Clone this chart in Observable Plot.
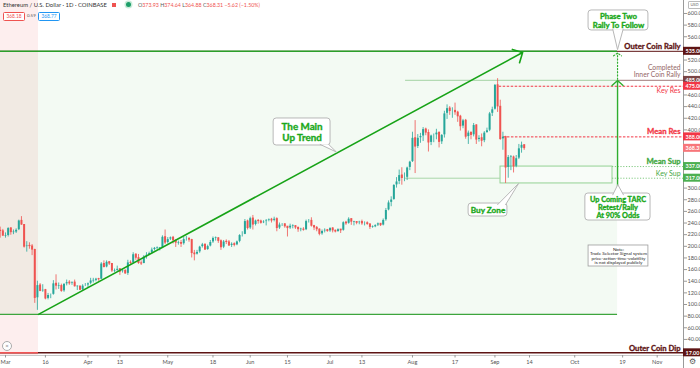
<!DOCTYPE html>
<html>
<head>
<meta charset="utf-8">
<script src="https://cdn.jsdelivr.net/npm/d3@7"></script>
<script src="https://cdn.jsdelivr.net/npm/@observablehq/plot@0.6"></script>
<style>
  html, body { margin:0; padding:0; background:#fff; }
  #wrap { position:relative; width:700px; height:368px; overflow:hidden; font-family: Lato, "DejaVu Sans", sans-serif; }
  #wrap svg { display:block; }
  .abs { position:absolute; white-space:nowrap; }
</style>
</head>
<body>
<div id="wrap"></div>
<script>
// ---------------- DATA ----------------
const firstDay = "2020-02-28"; // first candle, then one candle per day
// Feb 28 .. Sep 12, 2020 (daily)
const opens = [
  227,226,
  218,218,231,224,224,228,244,237,199,201,200,194,111,133,123,125,110,116,117,136,132,132,123,135,138,136,138,131,131,125,132,
  133,136,141,141,144,143,170,164,173,170,158,158,161,156,158,153,172,171,186,180,171,170,182,185,188,194,197,197,197,216,
  206,212,215,210,206,206,204,212,213,211,188,186,190,199,203,194,200,207,214,214,209,198,208,207,201,204,202,208,219,220,243,
  231,248,237,244,243,240,242,244,246,244,247,231,237,238,234,231,235,235,232,229,229,228,243,244,235,232,229,221,226,228,
  226,231,227,225,229,227,241,239,247,242,242,240,242,239,240,238,233,233,236,239,236,245,262,275,280,305,311,322,317,318,335,
  345,386,371,386,389,401,395,378,390,391,395,379,391,428,437,432,433,430,423,406,416,388,395,391,408,383,386,381,395,399,428,
  435,477,440,384,388,335,353,353,337,351,368,373.93
];
const highs = [
  233,229,
  223,232,232,228,230,245,251,237,208,206,203,195,140,136,134,126,119,118,141,151,137,135,136,142,141,139,142,132,132,134,136,
  137,145,145,145,145,172,175,175,174,170,161,166,161,160,160,176,175,189,187,186,175,184,189,190,197,198,199,198,218,228,
  215,216,217,211,209,210,215,217,215,212,193,193,200,205,204,202,210,216,216,215,211,210,211,210,206,206,209,220,225,246,245,
  250,253,245,246,245,244,246,247,248,250,249,240,239,239,234,238,237,235,233,231,232,245,246,249,236,234,230,228,230,229,
  232,232,228,230,229,242,243,249,247,243,242,243,245,242,242,238,235,237,240,239,247,265,278,285,306,318,331,335,326,336,346,
  396,416,392,394,404,403,400,391,393,401,397,392,432,443,440,438,446,432,425,418,418,398,397,411,409,390,393,397,403,430,439,
  478,488,451,396,389,356,356,355,356,375,379,374.64
];
const lows = [
  214,217,
  214,216,219,220,222,227,236,197,190,195,184,102,90,122,121,108,108,110,116,125,126,121,121,132,133,133,130,124,124,124,131,
  128,134,137,139,140,143,163,163,167,155,155,157,150,154,152,150,168,170,176,169,167,170,178,184,187,192,194,192,196,203,
  204,210,204,198,202,198,202,209,207,180,175,185,188,197,193,193,199,205,209,205,193,196,203,200,198,199,201,206,216,220,228,
  229,228,235,238,238,239,235,242,240,242,225,229,234,231,216,229,230,229,224,225,226,227,240,233,227,225,218,219,223,224,
  224,223,223,224,222,226,236,238,236,235,237,237,236,235,236,229,231,232,234,234,235,243,261,268,279,300,306,305,311,313,330,
  344,325,368,377,380,390,362,373,378,383,369,375,386,418,425,420,425,413,398,402,384,375,383,388,375,379,371,378,394,397,423,
  434,430,382,365,308,317,330,326,335,349,360,364.88
];
const closes = [
  226,218,
  218,231,224,224,228,244,237,199,201,200,194,111,133,123,125,110,116,117,136,132,132,123,135,138,136,138,131,131,125,132,133,
  136,141,141,144,143,170,164,173,170,158,158,161,156,158,153,172,171,186,180,171,170,182,185,188,194,197,197,197,216,206,
  212,215,210,206,206,204,212,213,211,188,186,190,199,203,194,200,207,214,214,209,198,208,207,201,204,202,208,219,220,243,231,
  248,237,244,243,240,242,244,246,244,247,231,237,238,234,231,235,235,232,229,229,228,243,244,235,232,229,221,226,228,226,
  231,227,225,229,227,241,239,247,242,242,240,242,239,240,238,233,233,236,239,236,245,262,275,280,305,311,322,317,318,335,345,
  386,371,386,389,401,395,378,390,391,395,379,391,428,437,432,433,430,423,406,416,388,395,391,408,383,386,381,395,399,428,435,
  477,440,384,388,335,353,353,337,351,368,374,368.31
];

const xTickDates = ["2020-03-01","2020-03-16","2020-04-01","2020-04-13","2020-05-01","2020-05-18","2020-06-01","2020-06-15",
  "2020-07-01","2020-07-13","2020-08-01","2020-08-17","2020-09-01","2020-09-14","2020-10-01","2020-10-19","2020-11-01"];
const xTickLabels = ["Mar","16","Apr","13","May","18","Jun","15","Jul","13","Aug","17","Sep","14","Oct","19","Nov"];
const priceTicks = [20,40,60,80,100,120,140,160,180,200,220,240,260,280,300,320,340,360,380,400,420,440,460,480,500,520,540,560,580,600];

const levelNames  = ["Outer Coin Rally","Completed","Inner Coin Rally","Key Res","Mean Res","Mean Sup","Key Sup","Outer Coin Dip"];
const levelValues = [535, 485, 485, 475, 388, 337, 317, 17];
const trendStart = 83;           // main up-trend base (Mar 13 low area)
const buyZone = [308, 337];
const tagValues = [535, 485, 475, 388, 368.31, 337, 317, 17];
const headerTitle = "Ethereum / U.S. Dollar · 1D · COINBASE";
const lastChange = ["−5.62", "(−1.50%)"];
const quoteLabels = ["368.18", "0.59", "368.77"];
const calloutTexts = ["The Main\nUp Trend", "Phase Two\nRally To Follow", "Up Coming TARC\nRetest/Rally\nAt 90% Odds", "Buy Zone",
  "Note:\nTrade Selector Signal system\nprice-action-time-volatility\nis not displayed publicly"];

// ---------------- BUILD ----------------
const t0 = Date.parse(firstDay);
const candles = closes.map((c, i) => ({date: new Date(t0 + i * 864e5), open: opens[i], high: highs[i], low: lows[i], close: c}));
const day = n => new Date(Date.UTC(2020, 2, 1) + n * 864e5); // days after Mar 1
const xStart = day(-1.88), xEnd = day(254.89);
const yBottom = 12.4, yTop = 622.3;
const UP = "#26a69a", DOWN = "#ef5350";
const MAROON = "#5e1414", RED = "#f23645";
const tickLab = new Map(xTickDates.map((d, i) => [Date.parse(d), xTickLabels[i]]));
// price labels hidden behind the coloured tags, as on the original axis
const shownTicks = priceTicks.filter(t => tagValues.every(v => Math.abs(v - t) > 10.3));

const lvl = name => levelValues[levelNames.indexOf(name)];
const hline = (v, a, b, opts) => Plot.ruleY([v], {x1: () => a, x2: () => b, ...opts});

const callouts = [
  {text: calloutTexts[0], x1: day(100.8), x2: day(122.2), y1: 373.2, y2: 419.6, fs: 9.8, lh: 1.08,
   ptr: [[118.3, 375], [124.4, 362], [121.5, 375]]},
  {text: calloutTexts[1], x1: day(219.2), x2: day(241.7), y1: 570.8, y2: 605.2, fs: 7.8, lh: 1.1,
   ptr: [[228.3, 573], [230.1, 538], [232.2, 573]]},
  {text: calloutTexts[2], x1: day(218), x2: day(242.5), y1: 244.3, y2: 290.7, fs: 7.3, lh: 1.1,
   ptr: [[228.3, 288.5], [230.2, 306], [232.3, 288.5]]},
  {text: calloutTexts[3], x1: day(174.1), x2: day(188.7), y1: 251.2, y2: 273.5, fs: 8.2, lh: 1.0,
   ptr: [[185, 271.5], [192.9, 308], [188, 271.5]]}
];
const ptrPts = callouts.flatMap((c, k) => c.ptr.map(p => ({k, x: day(p[0]), y: p[1]})));
const note = [{text: calloutTexts[4], x1: day(219.2), x2: day(241.7), y1: 165.3, y2: 201.4}];

const tags = tagValues.map((v, i) => ({v, label: v.toFixed(2),
  color: ["#5e1414", "#7a4545", "#f23645", "#f23645", "#f7767a", "#4caf50", "#4caf50", "#5e1414"][i]}));

const rightLabels = [
  {t: "Outer Coin Rally", v: lvl("Outer Coin Rally"), dy: -4.5, fill: MAROON, w: "bold", fs: 7.7},
  {t: "Completed", v: lvl("Completed"), dy: -12.2, fill: "#946666", w: "normal", fs: 6.8},
  {t: "Inner Coin Rally", v: lvl("Inner Coin Rally"), dy: -5.2, fill: "#946666", w: "normal", fs: 6.8},
  {t: "Key Res", v: lvl("Key Res"), dy: 4.8, fill: RED, w: "normal", fs: 7},
  {t: "Mean Res", v: lvl("Mean Res"), dy: -5.4, fill: RED, w: "bold", fs: 7.7},
  {t: "Mean Sup", v: lvl("Mean Sup"), dy: -5, fill: "#3fa73f", w: "bold", fs: 7.7},
  {t: "Key Sup", v: lvl("Key Sup"), dy: -4.8, fill: "#3fa73f", w: "normal", fs: 7},
  {t: "Outer Coin Dip", v: lvl("Outer Coin Dip"), dy: -4.6, fill: MAROON, w: "bold", fs: 7.7}
];

const marks = [
  // background zones
  Plot.rect([0], {x1: () => xStart, x2: () => day(12.4), y1: () => yBottom, y2: () => yTop, fill: "#fdeeee"}),
  Plot.rect([0], {x1: () => xStart, x2: () => day(230.1), y1: () => trendStart, y2: () => lvl("Outer Coin Rally"), fill: "#4caf50", fillOpacity: 0.065}),
  Plot.rect([0], {x1: () => day(186.1), x2: () => day(228.2), y1: () => buyZone[0], y2: () => buyZone[1], fill: "white", fillOpacity: 0.45, stroke: "#93d193", strokeWidth: 1}),
  // level lines
  hline(lvl("Outer Coin Rally"), xStart, xEnd, {stroke: MAROON, strokeWidth: 1}),
  hline(lvl("Outer Coin Rally"), xStart, day(230.1), {stroke: "#2a9f2a", strokeWidth: 1.5}),
  hline(trendStart, xStart, day(230.1), {stroke: "#3da53d", strokeWidth: 1.2}),
  hline(lvl("Completed"), day(150.4), day(230.1), {stroke: "#b3dab3", strokeWidth: 1.2}),
  hline(lvl("Completed"), day(230.1), xEnd, {stroke: "#b39494", strokeWidth: 1.2}),
  hline(lvl("Key Res"), day(185.6), xEnd, {stroke: RED, strokeWidth: 1, strokeDasharray: "2.5,1.5"}),
  hline(lvl("Mean Res"), day(187.2), xEnd, {stroke: RED, strokeWidth: 1, strokeDasharray: "2.5,1.5"}),
  hline(lvl("Mean Sup"), day(228.2), xEnd, {stroke: "#80c980", strokeWidth: 1, strokeDasharray: "1.2,1.6"}),
  hline(lvl("Key Sup"), day(150.4), day(186.1), {stroke: "#a9d6a9", strokeWidth: 1}),
  hline(lvl("Key Sup"), day(228.2), xEnd, {stroke: "#80c980", strokeWidth: 1, strokeDasharray: "1.2,1.6"}),
  hline(lvl("Outer Coin Dip"), xStart, xEnd, {stroke: MAROON, strokeWidth: 1.5}),
  hline(lvl("Outer Coin Dip"), xStart, day(12.4), {stroke: "#f25555", strokeWidth: 1.5}),
  // axis borders
  Plot.ruleY([yBottom], {stroke: "#c8c8c8", strokeWidth: 1}),
  Plot.ruleX([xEnd], {stroke: "#9a9a9a", strokeWidth: 1, insetBottom: -13}),
  // candles
  Plot.ruleX(candles, {x: "date", y1: "low", y2: "high", stroke: d => d.close >= d.open ? UP : DOWN, strokeWidth: 0.8}),
  Plot.ruleX(candles, {x: "date", y1: "open", y2: "close", stroke: d => d.close >= d.open ? UP : DOWN, strokeWidth: 2, insetTop: -0.3, insetBottom: -0.3}),
  // trend arrow
  Plot.arrow([{x1: day(12.4), y1: trendStart, x2: day(194.4), y2: 533}], {x1: "x1", y1: "y1", x2: "x2", y2: "y2", stroke: "#17a317", strokeWidth: 1.6, headLength: 10, headAngle: 90}),
  // vertical rally arrows
  Plot.arrow([{x: day(230.1), y1: 300, y2: 485}], {x1: "x", x2: "x", y1: "y1", y2: "y2", stroke: "#2fae2f", strokeWidth: 1.4, headLength: 8, headAngle: 95}),
  Plot.arrow([{x: day(230.1), y1: 487, y2: 532}], {x1: "x", x2: "x", y1: "y1", y2: "y2", stroke: "#2fae2f", strokeWidth: 1.2, strokeDasharray: "1.2,2", headLength: 6, headAngle: 110}),
  // callouts
  Plot.rect(callouts, {x1: "x1", x2: "x2", y1: "y1", y2: "y2", fill: "white", stroke: "#b8b8b8", strokeWidth: 1, rx: 3}),
  Plot.line(ptrPts, {x: "x", y: "y", z: "k", fill: "white", stroke: "#b8b8b8", strokeWidth: 1, curve: "linear"}),
  ...callouts.map(c => Plot.text([c], {x: d => new Date((+d.x1 + +d.x2) / 2), y: d => (d.y1 + d.y2) / 2, text: "text",
     fill: "#1aa81a", stroke: "#1aa81a", strokeWidth: 0.35, fontWeight: "bold", fontSize: c.fs, lineHeight: c.lh})),
  Plot.rect(note, {x1: "x1", x2: "x2", y1: "y1", y2: "y2", fill: "white", stroke: "#9c9c9c", strokeWidth: 0.8}),
  Plot.text(note, {x: d => new Date((+d.x1 + +d.x2) / 2), y: d => (d.y1 + d.y2) / 2, text: "text", fill: "#222", fontSize: 4.6, lineHeight: 1.0}),
  // right side labels
  ...rightLabels.map(l => Plot.text([l], {x: () => day(253.8), y: "v", text: "t", dy: l.dy, textAnchor: "end",
     fill: l.fill, stroke: l.w === "bold" ? l.fill : "none", strokeWidth: 0.3, fontWeight: l.w, fontSize: l.fs})),
  // axes
  Plot.axisX(xTickDates.map(d => new Date(d)), {anchor: "bottom", tickSize: 2.5, tickPadding: 2, fontSize: 5.6,
     tickFormat: d => tickLab.get(+d), fill: "#555", stroke: "#999"}),
  Plot.axisY(shownTicks, {anchor: "right", tickSize: 3, tickPadding: 1, fontSize: 5.6,
     tickFormat: d => d.toFixed(2), fill: "#555", stroke: "#999"}),
  // price tags
  Plot.rect(tags, {x1: () => xEnd, x2: () => xEnd, y1: "v", y2: "v", insetTop: -4, insetBottom: -4, insetRight: -17, fill: "color"}),
  Plot.text(tags, {x: () => xEnd, y: "v", text: "label", dx: 2, textAnchor: "start", fill: "white", fontSize: 5.4, fontWeight: "bold"})
];

const plot = Plot.plot({
  width: 700, height: 368,
  marginTop: 0, marginRight: 17, marginBottom: 13, marginLeft: 0,
  style: {fontFamily: "Lato, 'DejaVu Sans', sans-serif", background: "white", overflow: "visible"},
  x: {type: "utc", domain: [xStart, xEnd]},
  y: {domain: [yBottom, yTop]},
  color: {type: "identity"},
  marks
});

const wrap = document.getElementById("wrap");
wrap.appendChild(plot);

// header & UI overlays (real text)
const last = candles[candles.length - 1];
const red = "#ef5350";
const ov = (html, css) => { const d = document.createElement("div"); d.className = "abs"; d.style.cssText = css; d.innerHTML = html; wrap.appendChild(d); };
ov(headerTitle, "left:3px;top:1px;font-size:5.9px;color:#333;line-height:8px;");
ov("", `left:112px;top:2.5px;width:4px;height:4px;background:${red};`);
ov("", "left:126px;top:2px;width:5px;height:5px;border-radius:50%;background:#1e9e6a;box-shadow:0 0 0 1.5px #c9ecd9;");
ov(`<span style="color:#555">O</span>${last.open.toFixed(2)} <span style="color:#555">H</span>${last.high.toFixed(2)} <span style="color:#555">L</span>${last.low.toFixed(2)} <span style="color:#555">C</span>${last.close.toFixed(2)} ${lastChange[0]} ${lastChange[1]}`,
   `left:138px;top:1px;font-size:5.3px;color:${red};line-height:8px;`);
ov(quoteLabels[0], `left:3px;top:11.5px;width:20px;height:7px;border:0.8px solid ${red};border-radius:1.5px;color:${red};font-size:4.8px;line-height:7px;text-align:center;background:#fff;`);
ov(quoteLabels[1], "left:27px;top:12px;font-size:4.4px;color:#555;line-height:7px;");
ov(quoteLabels[2], "left:38px;top:11.5px;width:20px;height:7px;border:0.8px solid #2196f3;border-radius:1.5px;color:#2196f3;font-size:4.8px;line-height:7px;text-align:center;background:#fff;");
ov("USD", "left:688px;top:0.5px;width:11px;height:6.5px;border:0.6px solid #bbb;border-radius:1px;font-size:4px;color:#666;line-height:6.5px;text-align:center;background:#fff;");
ov("⚙", "left:689px;top:357px;font-size:8px;color:#555;line-height:9px;");
ov("×", "left:2px;top:341px;width:8px;height:8px;border:0.7px solid #aaa;border-radius:50%;font-size:6px;color:#777;line-height:8px;text-align:center;background:#fff;");
</script>
</body>
</html>
